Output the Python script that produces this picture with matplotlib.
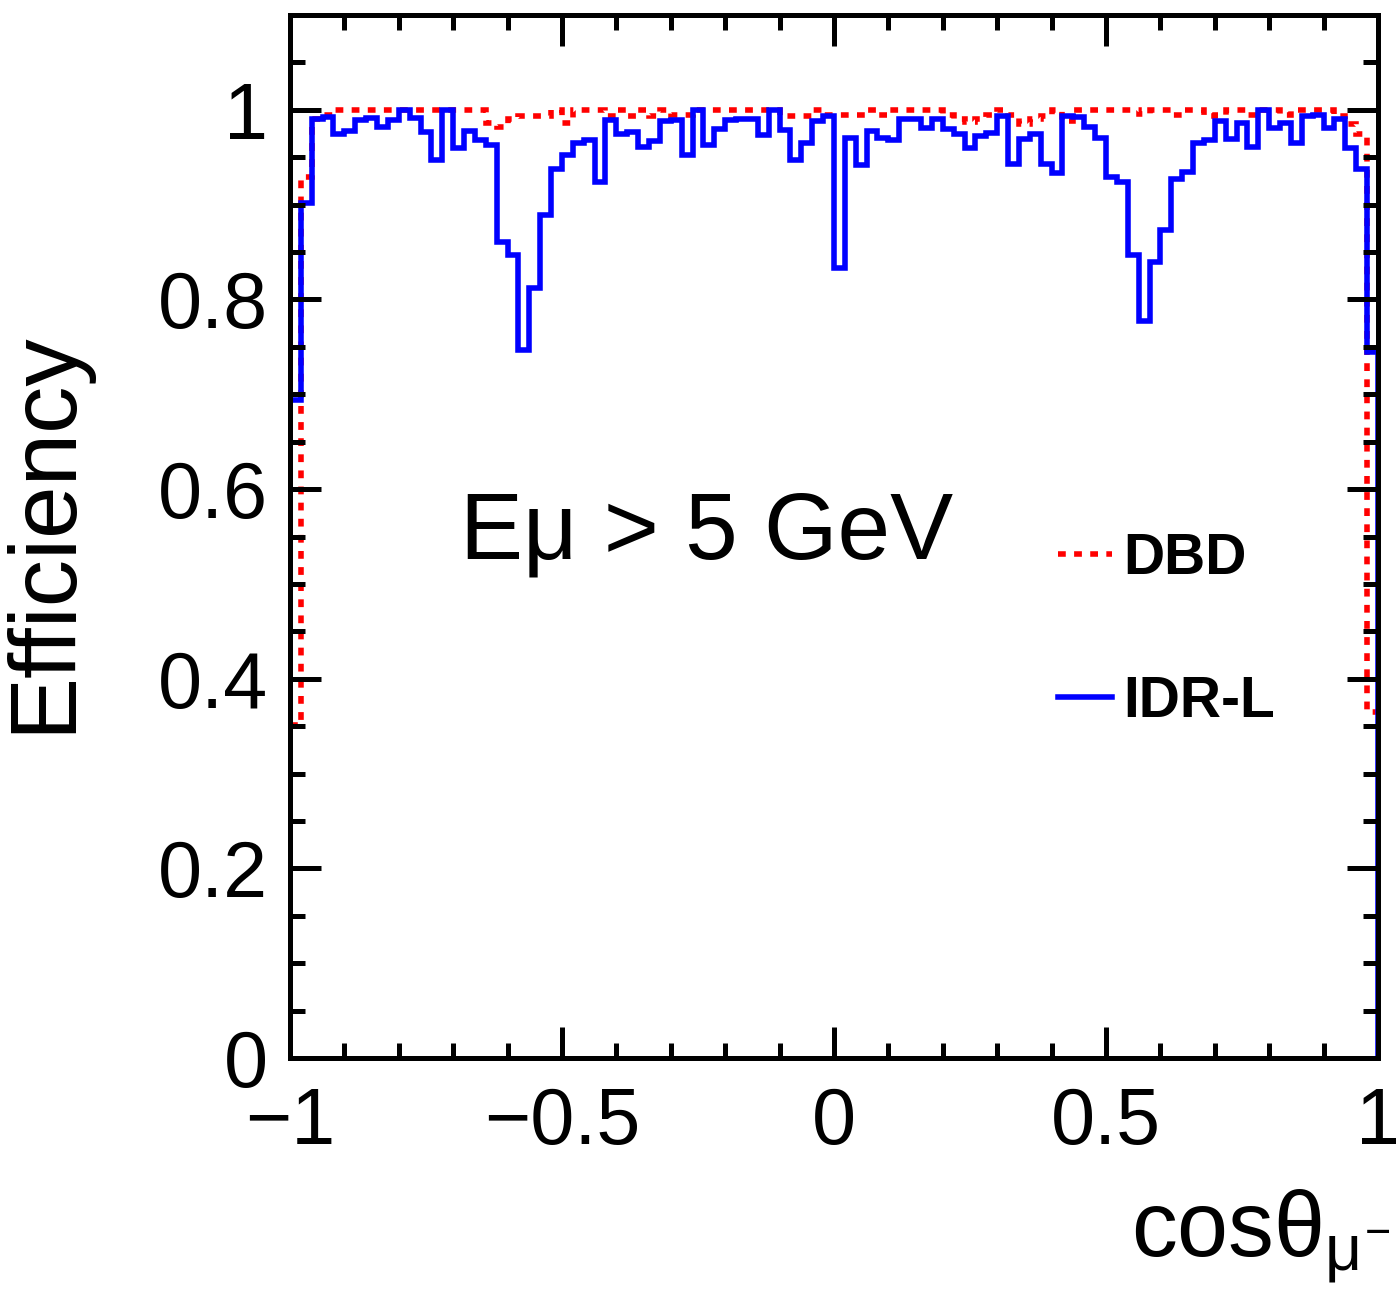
import numpy as np
import matplotlib
matplotlib.use("Agg")
import matplotlib.pyplot as plt
from matplotlib.lines import Line2D

plt.rcParams['font.family'] = ['Liberation Sans', 'DejaVu Sans']
plt.rcParams['mathtext.fontset'] = 'custom'
plt.rcParams['mathtext.rm'] = 'Liberation Sans'
plt.rcParams['mathtext.it'] = 'Liberation Sans'

# 100 bins of cos(theta) from -1 to 1
edges = np.linspace(-1, 1, 101)

# IDR-L efficiency (blue, solid)
idr_l = [0.694, 0.902, 0.990, 0.992, 0.974, 0.978, 0.989, 0.991, 0.982, 0.989,
         1.000, 0.991, 0.977, 0.947, 1.000, 0.960, 0.978, 0.968, 0.963, 0.861,
         0.847, 0.747, 0.812, 0.889, 0.938, 0.952, 0.965, 0.968, 0.924, 0.989,
         0.974, 0.977, 0.961, 0.967, 0.988, 0.989, 0.952, 1.000, 0.963, 0.980,
         0.989, 0.990, 0.990, 0.973, 1.000, 0.979, 0.947, 0.965, 0.988, 0.993,
         0.833, 0.970, 0.942, 0.978, 0.970, 0.968, 0.990, 0.990, 0.981, 0.990,
         0.980, 0.974, 0.960, 0.972, 0.976, 0.993, 0.943, 0.969, 0.975, 0.943,
         0.933, 0.994, 0.992, 0.982, 0.970, 0.929, 0.924, 0.847, 0.777, 0.839,
         0.873, 0.927, 0.934, 0.965, 0.968, 0.988, 0.969, 0.986, 0.961, 1.000,
         0.981, 0.986, 0.965, 0.994, 0.995, 0.981, 0.990, 0.960, 0.938, 0.745]

# DBD efficiency (red, dotted)
dbd = [0.351, 0.929, 0.990, 0.995, 1.000, 1.000, 1.000, 1.000, 1.000, 1.000,
       1.000, 1.000, 1.000, 1.000, 1.000, 1.000, 1.000, 1.000, 0.986, 0.982,
       0.990, 0.993, 0.993, 0.993, 1.000, 0.986, 1.000, 1.000, 1.000, 0.993,
       1.000, 0.993, 1.000, 0.993, 1.000, 0.995, 0.995, 1.000, 1.000, 1.000,
       1.000, 1.000, 1.000, 1.000, 1.000, 0.993, 0.993, 0.993, 1.000, 0.995,
       0.995, 0.995, 0.995, 1.000, 0.995, 1.000, 1.000, 1.000, 1.000, 1.000,
       0.995, 0.990, 0.987, 0.990, 0.995, 1.000, 0.995, 0.985, 0.990, 0.994,
       1.000, 0.988, 1.000, 1.000, 1.000, 1.000, 1.000, 1.000, 0.996, 1.000,
       1.000, 0.995, 1.000, 1.000, 0.993, 0.995, 1.000, 1.000, 0.995, 1.000,
       1.000, 0.995, 1.000, 1.000, 1.000, 1.000, 0.993, 0.985, 0.975, 0.365]

dotted = (0, (1.4, 1.5))

fig = plt.figure(figsize=(13.96, 13.06), dpi=100)
ax = fig.add_axes([0.2077, 0.1899, 0.7794, 0.7986])

ax.stairs(dbd, edges, baseline=None, color='#ff0000', lw=4, linestyle=dotted)
ax.stairs(idr_l, edges, baseline=0, color='#0000ff', lw=4)

ax.set_xlim(-1, 1)
ax.set_ylim(0, 1.1)

for s in ax.spines.values():
    s.set_linewidth(3.6)

ax.set_xticks([-1, -0.5, 0, 0.5, 1])
ax.set_xticklabels(['\u22121', '\u22120.5', '0', '0.5', '1'])
ax.set_xticks(np.arange(-1, 1.001, 0.1), minor=True)
ax.set_yticks([0, 0.2, 0.4, 0.6, 0.8, 1.0])
ax.set_yticklabels(['0', '0.2', '0.4', '0.6', '0.8', '1'])
ax.set_yticks(np.arange(0, 1.101, 0.05), minor=True)

ax.tick_params(which='both', direction='in', top=True, right=True,
               width=3.6, labelsize=57)
ax.tick_params(which='major', length=22)
ax.tick_params(which='minor', length=11)
ax.tick_params(axis='y', pad=16)
ax.tick_params(axis='x', pad=20)

ax.text(0.156, 0.502, 'E\u03bc > 5 GeV', transform=ax.transAxes,
        fontsize=68, ha='left', va='center')

handles = [Line2D([], [], color='#ff0000', lw=4, linestyle=dotted),
           Line2D([], [], color='#0000ff', lw=4)]
ax.legend(handles, ['DBD', 'IDR-L'], loc='center left',
          bbox_to_anchor=(0.706, 0.410), frameon=False,
          prop={'weight': 'bold', 'size': 41}, handlelength=0.95,
          handletextpad=0.2, labelspacing=1.56, borderpad=0,
          borderaxespad=0)

fig.text(45 / 1396, 1 - 532 / 1306, 'Efficiency', rotation=90,
         fontsize=68, ha='center', va='center')
fig.text(1131 / 1396, 1 - 1257 / 1306, r'cos$\theta_{\mu^{-}}$',
         fontsize=66, ha='left', va='baseline')

fig.savefig('out.png', dpi=100)
